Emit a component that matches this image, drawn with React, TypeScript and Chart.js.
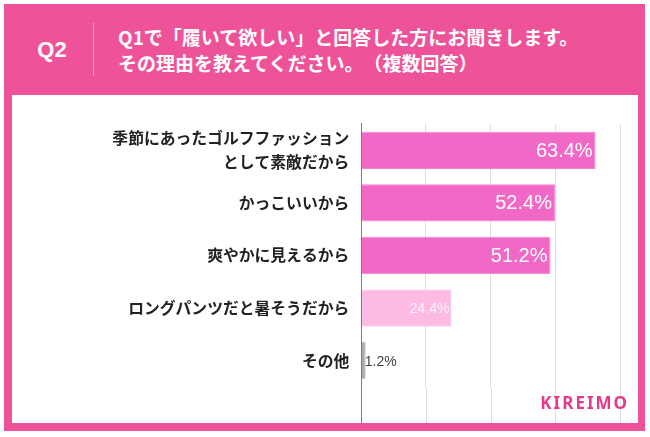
import React, { useEffect, useRef } from "react";
import { Chart, registerables } from "chart.js";

Chart.register(...registerables);

const categories: (string | string[])[] = [
  ["季節にあったゴルフファッション", "として素敵だから"],
  "かっこいいから",
  "爽やかに見えるから",
  "ロングパンツだと暑そうだから",
  "その他",
];
const values = [63.4, 52.4, 51.2, 24.4, 1.2];
const barColors = ["#F168C6", "#F168C6", "#F168C6", "#FDBAE4", "#ABABAB"];
const barBorders = ["#F585D2", "#F585D2", "#F585D2", "#FDC8EA", "#C4C4C4"];
const xTicks = [0, 17.5, 35, 52.5, 70];

const title = "Q2";
const questionLines = [
  "Q1で「履いて欲しい」と回答した方にお聞きします。",
  "その理由を教えてください。（複数回答）",
];

const JP = '"Noto Sans CJK JP", "Noto Sans", sans-serif';
const NUM = '"Liberation Sans", Arial, "Noto Sans CJK JP", sans-serif';

const valueLabelPlugin = {
  id: "valueLabels",
  afterDatasetsDraw(chart: any) {
    const ctx = chart.ctx;
    const meta = chart.getDatasetMeta(0);
    meta.data.forEach((bar: any, i: number) => {
      const v = values[i];
      const text = v.toFixed(1) + "%";
      ctx.save();
      ctx.textBaseline = "middle";
      if (i <= 2) {
        ctx.font = `20px ${NUM}`;
        ctx.fillStyle = "#ffffff";
        ctx.textAlign = "right";
        ctx.fillText(text, bar.x - 3, bar.y + 1);
      } else if (i === 3) {
        ctx.font = `14px ${NUM}`;
        ctx.fillStyle = "#FFF2FA";
        ctx.textAlign = "right";
        ctx.fillText(text, bar.x - 2, bar.y + 1);
      } else {
        ctx.font = `14px ${NUM}`;
        ctx.fillStyle = "#444444";
        ctx.textAlign = "left";
        ctx.fillText(text, bar.x - 1, bar.y + 1);
      }
      ctx.restore();
    });
  },
};

const extendGridPlugin = {
  id: "extendGrid",
  beforeDatasetsDraw(chart: any) {
    const ctx = chart.ctx;
    const x = chart.scales.x;
    const area = chart.chartArea;
    const h = chart.height;
    ctx.save();
    ctx.lineWidth = 1;
    xTicks.forEach((t) => {
      if (t === 0) return;
      const px = Math.round(x.getPixelForValue(t)) + 0.5;
      ctx.strokeStyle = "#DEDEDE";
      ctx.beginPath();
      ctx.moveTo(px, area.bottom);
      ctx.lineTo(px, h);
      ctx.stroke();
    });
    const px0 = Math.round(x.getPixelForValue(0)) + 0.5;
    ctx.strokeStyle = "#7A7A7A";
    ctx.beginPath();
    ctx.moveTo(px0, area.top - 1);
    ctx.lineTo(px0, h);
    ctx.stroke();
    ctx.restore();
  },
};

function App() {
  const ref = useRef<HTMLCanvasElement | null>(null);

  useEffect(() => {
    if (!ref.current) return;
    const chart = new Chart(ref.current, {
      type: "bar",
      data: {
        labels: categories,
        datasets: [
          {
            data: values,
            backgroundColor: barColors,
            borderColor: barBorders,
            borderWidth: 1,
            barPercentage: 0.71,
            categoryPercentage: 1,
          },
        ],
      },
      options: {
        indexAxis: "y",
        responsive: false,
        animation: false,
        devicePixelRatio: 1,
        layout: { padding: { left: 0, right: 18, top: 29, bottom: 20.4 } },
        plugins: {
          legend: { display: false },
          tooltip: { enabled: false },
        },
        scales: {
          x: {
            min: 0,
            max: 70,
            afterBuildTicks: (scale: any) => {
              scale.ticks = xTicks.map((v) => ({ value: v }));
            },
            afterFit: (scale: any) => {
              scale.height = 0;
            },
            ticks: { display: false },
            border: { display: false },
            grid: {
              color: (c: any) => (c.tick && c.tick.value === 0 ? "rgba(0,0,0,0)" : "#DEDEDE"),
              drawTicks: false,
            },
          },
          y: {
            afterFit: (scale: any) => {
              scale.width = 349.3;
            },
            grid: { display: false, drawTicks: false },
            border: { display: false },
            ticks: {
              padding: 12,
              color: "#222222",
              font: { family: JP, size: 15.8, weight: "bold", lineHeight: 1.52 },
            },
          },
        },
      },
      plugins: [extendGridPlugin, valueLabelPlugin],
    });
    return () => chart.destroy();
  }, []);

  return (
    <div
      style={{
        position: "absolute",
        left: 0,
        top: 0,
        width: 650,
        height: 437,
        background: "#ffffff",
        overflow: "hidden",
      }}
    >
      <div
        style={{
          position: "absolute",
          left: 4,
          top: 4,
          width: 641,
          height: 427,
          background: "#EE5399",
        }}
      />
      <div
        style={{
          position: "absolute",
          left: 20,
          top: 36,
          width: 64,
          height: 28,
          lineHeight: "28px",
          textAlign: "center",
          color: "#ffffff",
          fontFamily: NUM,
          fontWeight: "bold",
          fontSize: 22,
        }}
      >
        {title}
      </div>
      <div
        style={{
          position: "absolute",
          left: 93,
          top: 23,
          width: 1,
          height: 53,
          background: "rgba(255,255,255,0.45)",
        }}
      />
      {questionLines.map((line, i) => (
        <div
          key={i}
          style={{
            position: "absolute",
            left: 118,
            top: 24 + i * 25.5,
            height: 26,
            lineHeight: "26px",
            whiteSpace: "nowrap",
            color: "#ffffff",
            fontFamily: JP,
            fontWeight: "bold",
            fontSize: 19,
            textSpacingTrim: "space-all",
          } as any}
        >
          {line}
        </div>
      ))}
      <div
        style={{
          position: "absolute",
          left: 12,
          top: 95,
          width: 626,
          height: 328,
          background: "#ffffff",
        }}
      >
        <canvas ref={ref} width={626} height={328} style={{ display: "block", width: 626, height: 328 }} />
      </div>
      <div
        style={{
          position: "absolute",
          left: 500,
          top: 391,
          width: 129,
          height: 24,
          lineHeight: "24px",
          textAlign: "right",
          color: "#E43A8C",
          fontFamily: '"Noto Sans", "DejaVu Sans", sans-serif',
          fontWeight: "bold",
          fontSize: 17,
          letterSpacing: 2,
        }}
      >
        KIREIMO
      </div>
    </div>
  );
}

export default App;
